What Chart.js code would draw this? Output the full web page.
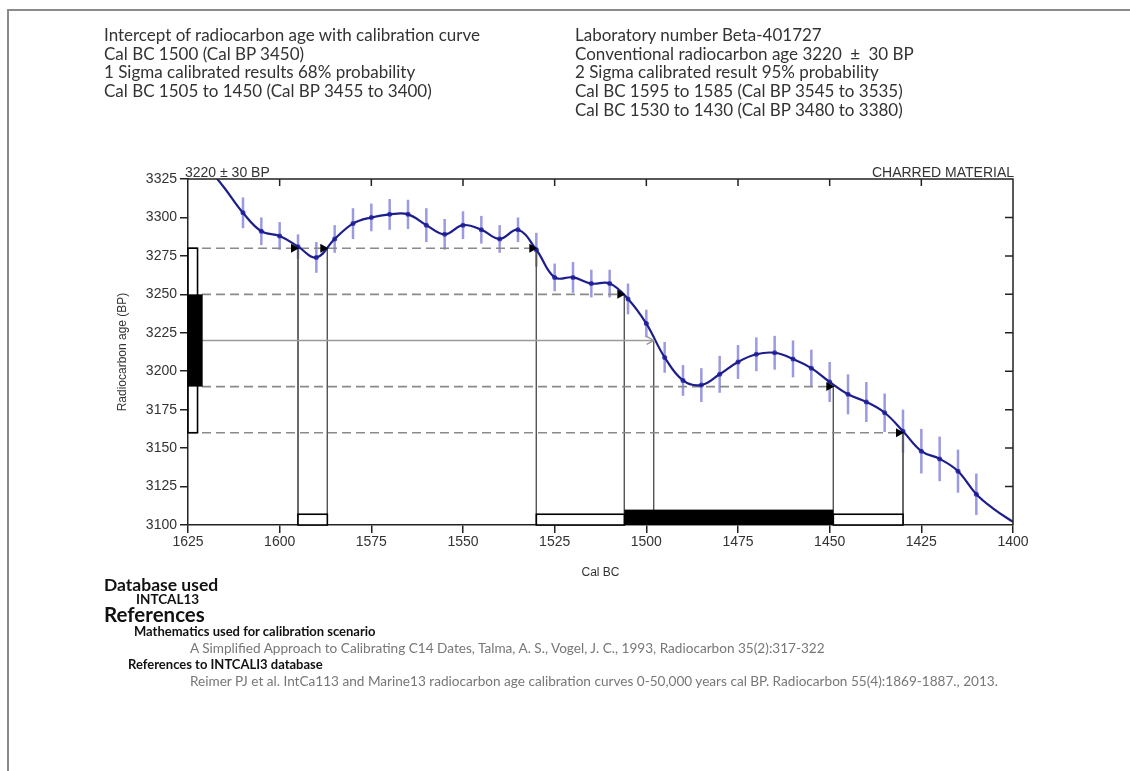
<!DOCTYPE html>
<html>
<head>
<meta charset="utf-8">
<script src="https://cdn.jsdelivr.net/npm/chart.js@4"></script>
<style>
  html, body { margin:0; padding:0; background:#fff; }
  body { width:1130px; height:771px; position:relative; overflow:hidden; }
  #frameTop { position:absolute; left:8px; top:9px; width:1122px; height:2px; background:#8a8a8a; }
  #frameLeft { position:absolute; left:7px; top:9px; width:2px; height:762px; background:#8a8a8a; }
  canvas { position:absolute; left:0; top:0; }
  .t { position:absolute; font-family:'Lato', sans-serif; color:#333; white-space:nowrap; }
  .hdr { font-size:17px; line-height:18.7px; }
  .b { font-weight:bold; color:#111; line-height:1; }
  .g { color:#777; font-size:13.6px; line-height:1; }
</style>
</head>
<body>
<div id="frameTop"></div>
<div id="frameLeft"></div>
<canvas id="c" width="1130" height="771"></canvas>

<div class="t hdr" style="left:104px; top:26px;">Intercept of radiocarbon age with calibration curve<br>Cal BC 1500 (Cal BP 3450)<br>1 Sigma calibrated results 68% probability<br>Cal BC 1505 to 1450 (Cal BP 3455 to 3400)</div>
<div class="t hdr" style="left:575px; top:26px;">Laboratory number Beta-401727<br>Conventional radiocarbon age 3220 <span style="margin:0 4px">±</span> 30 BP<br>2 Sigma calibrated result 95% probability<br>Cal BC 1595 to 1585 (Cal BP 3545 to 3535)<br>Cal BC 1530 to 1430 (Cal BP 3480 to 3380)</div>

<div class="t b" style="left:104px; top:576px; font-size:17.5px;">Database used</div>
<div class="t b" style="left:136px; top:593px; font-size:13.5px;">INTCAL13</div>
<div class="t b" style="left:104px; top:604px; font-size:20.5px;">References</div>
<div class="t b" style="left:134px; top:625px; font-size:13px;">Mathematics used for calibration scenario</div>
<div class="t g" style="left:190px; top:642px;">A Simplified Approach to Calibrating C14 Dates, Talma, A. S., Vogel, J. C., 1993, Radiocarbon 35(2):317-322</div>
<div class="t b" style="left:128px; top:658px; font-size:13px;">References to INTCALI3 database</div>
<div class="t g" style="left:190px; top:675px;">Reimer PJ et al. IntCa113 and Marine13 radiocarbon age calibration curves 0-50,000 years cal BP. Radiocarbon 55(4):1869-1887., 2013.</div>

<script>
// ---- Data ----
const calYears = [1610,1605,1600,1595,1590,1585,1580,1575,1570,1565,1560,1555,
                  1550,1545,1540,1535,1530,1525,1520,1515,1510,1505,1500,
                  1495,1490,1485,1480,1475,1470,1465,1460,1455,1450,1445,1440,1435,1430,1425,1420,1415,1410];
const calAges  = [3303,3291,3288,3281,3274,3286,3296,3300,3302,3302,3295,3289,
                  3295,3292,3286,3292,3279,3261,3261,3257,3257,3247,3231,
                  3209,3194,3191,3198,3206,3211,3212,3208,3202,3193,3185,3180,3173,3161,3148,3143,3135,3120];
const calErrors = [10,9,9,8,10,9,10,9,10,9.5,11,10,
                   9,9,9,8,11,9,10,9,9,10,9,
                   10,10,11,12,11,11,11,12,12,13,13,13,12.5,14,14.5,14.5,14,13.5];
// curve continues beyond the plotted calibration points
const curveStartYears = [1625,1620,1615];
const curveStartAges  = [3350,3334,3319];
const curveEndYears = [1405,1400];
const curveEndAges  = [3110,3102];

const xTicks = [1625,1600,1575,1550,1525,1500,1475,1450,1425,1400];
const yTicks = [3100,3125,3150,3175,3200,3225,3250,3275,3300,3325];

const measuredAge = 3220;
const sigma1 = [3190, 3250];
const sigma2 = [3160, 3280];
// dashed levels: [age, year where line ends]
const dashedLevels = [[3280,1530],[3250,1506],[3190,1449],[3160,1430]];
// intercept verticals: [year, age]
const verticals = [[1595,3280],[1587,3280],[1530,3280],[1506,3250],[1498,3220],[1449,3190],[1430,3160]];
// arrowheads: [year, age]
const arrows = [[1595,3280],[1587,3280],[1530,3280],[1506,3250],[1449,3190],[1430,3160]];
const interceptArrow = [1498, 3220];
// calibrated ranges along x axis: [from, to]
const ranges2 = [[1595,1587],[1530,1506],[1449,1430]];
const ranges1 = [[1506,1449]];
const xMin = 1400, xMax = 1625, yMin = 3100, yMax = 3325;

// ---- Build datasets ----
const curveData = [];
curveStartYears.forEach((y,i)=>curveData.push({x:y, y:curveStartAges[i]}));
calYears.forEach((y,i)=>curveData.push({x:y, y:calAges[i]}));
curveEndYears.forEach((y,i)=>curveData.push({x:y, y:curveEndAges[i]}));
const pointData = calYears.map((y,i)=>({x:y, y:calAges[i]}));

const datasets = [
  { data: curveData, borderColor:'#1d1d8c', borderWidth:2.2, pointRadius:0, tension:0.4, clip:0, fill:false },
  { data: pointData, showLine:false, pointRadius:2.5, pointBackgroundColor:'#3a3ab8', pointBorderWidth:0, clip:0 }
];
dashedLevels.forEach(([age, end])=>{
  datasets.push({ data:[{x:xMax,y:age},{x:end,y:age}], borderColor:'#8a8a8a', borderWidth:1.6, borderDash:[9,5], pointRadius:0, tension:0 });
});
datasets.push({ data:[{x:xMax,y:measuredAge},{x:interceptArrow[0],y:measuredAge}], borderColor:'#9a9a9a', borderWidth:1.6, pointRadius:0, tension:0 });
verticals.forEach(([yr, age])=>{
  datasets.push({ data:[{x:yr,y:age},{x:yr,y:yMin}], borderColor:'#555', borderWidth:1, pointRadius:0, tension:0 });
});

const overlay = {
  id:'overlay',
  beforeDatasetsDraw(chart){
    const ctx = chart.ctx, xs = chart.scales.x, ys = chart.scales.y;
    ctx.save();
    ctx.strokeStyle = 'rgba(120,120,215,0.75)';
    ctx.lineWidth = 2.5;
    calYears.forEach((yr,i)=>{
      const px = xs.getPixelForValue(yr);
      ctx.beginPath();
      ctx.moveTo(px, ys.getPixelForValue(calAges[i]-calErrors[i]));
      ctx.lineTo(px, ys.getPixelForValue(calAges[i]+calErrors[i]));
      ctx.stroke();
    });
    ctx.restore();
  },
  afterDatasetsDraw(chart){
    const ctx = chart.ctx, xs = chart.scales.x, ys = chart.scales.y, a = chart.chartArea;
    ctx.save();
    // arrowheads
    ctx.fillStyle = '#000';
    arrows.forEach(([yr, age])=>{
      const px = xs.getPixelForValue(yr), py = ys.getPixelForValue(age);
      ctx.beginPath(); ctx.moveTo(px+1, py); ctx.lineTo(px-7, py-4.5); ctx.lineTo(px-7, py+4.5); ctx.closePath(); ctx.fill();
    });
    {
      const px = xs.getPixelForValue(interceptArrow[0]), py = ys.getPixelForValue(interceptArrow[1]);
      ctx.strokeStyle = '#999'; ctx.lineWidth = 1.4;
      ctx.beginPath(); ctx.moveTo(px-7, py-4); ctx.lineTo(px, py); ctx.lineTo(px-7, py+4); ctx.stroke();
    }
    // bottom range boxes
    ctx.lineWidth = 1.6; ctx.strokeStyle = '#000';
    ranges2.forEach(([f,t])=>{
      const x1 = xs.getPixelForValue(f), x2 = xs.getPixelForValue(t);
      const y1 = ys.getPixelForValue(yMin+7), y2 = ys.getPixelForValue(yMin);
      ctx.fillStyle = '#fff'; ctx.fillRect(x1, y1, x2-x1, y2-y1);
      ctx.strokeRect(x1, y1, x2-x1, y2-y1);
    });
    ranges1.forEach(([f,t])=>{
      const x1 = xs.getPixelForValue(f), x2 = xs.getPixelForValue(t);
      const y1 = ys.getPixelForValue(yMin+10), y2 = ys.getPixelForValue(yMin);
      ctx.fillStyle = '#000'; ctx.fillRect(x1, y1, x2-x1, y2-y1);
    });
    // left range boxes
    {
      const x1 = a.left, x2 = xs.getPixelForValue(1622.4);
      const y1 = ys.getPixelForValue(sigma2[1]), y2 = ys.getPixelForValue(sigma2[0]);
      ctx.fillStyle = '#fff'; ctx.fillRect(x1, y1, x2-x1, y2-y1);
      ctx.strokeRect(x1, y1, x2-x1, y2-y1);
      const x3 = xs.getPixelForValue(1621);
      const y3 = ys.getPixelForValue(sigma1[1]), y4 = ys.getPixelForValue(sigma1[0]);
      ctx.fillStyle = '#000'; ctx.fillRect(x1, y3, x3-x1, y4-y3);
    }
    // frame top/right with inward ticks
    ctx.strokeStyle = '#222'; ctx.lineWidth = 1.5;
    ctx.beginPath();
    ctx.moveTo(a.left, a.top); ctx.lineTo(a.right, a.top); ctx.lineTo(a.right, a.bottom);
    ctx.stroke();
    ctx.beginPath();
    xTicks.forEach(v=>{ const px = xs.getPixelForValue(v); if (v!==xMin && v!==xMax){ ctx.moveTo(px, a.top); ctx.lineTo(px, a.top+7);} });
    yTicks.forEach(v=>{ const py = ys.getPixelForValue(v); if (v!==yMin && v!==yMax){ ctx.moveTo(a.right, py); ctx.lineTo(a.right-8, py);} });
    ctx.stroke();
    // corner labels
    ctx.fillStyle = '#333';
    ctx.font = '14px "Liberation Sans", Arial, sans-serif';
    ctx.textBaseline = 'alphabetic';
    ctx.textAlign = 'left';
    ctx.fillText(measuredAge + ' \u00b1 30 BP', a.left - 3, a.top - 2);
    ctx.textAlign = 'right';
    ctx.fillText('CHARRED MATERIAL', a.right + 1, a.top - 2);
    ctx.restore();
  }
};

Chart.defaults.font.family = '"Liberation Sans", Arial, sans-serif';
Chart.defaults.font.size = 14;
Chart.defaults.color = '#333';

new Chart(document.getElementById('c'), {
  type:'line',
  data:{ datasets },
  options:{
    responsive:false, animation:false, events:[],
    layout:{ padding:{ left:100, top:179, right:117, bottom:186 } },
    plugins:{ legend:{display:false}, tooltip:{enabled:false} },
    scales:{
      x:{ type:'linear', reverse:true, min:xMin, max:xMax,
          afterFit(s){ s.height = 60; },
          afterBuildTicks(s){ s.ticks = xTicks.map(v=>({value:v})); },
          ticks:{ padding:1, color:'#333', autoSkip:false, maxRotation:0, callback:v=>String(v) },
          grid:{ drawOnChartArea:false, drawTicks:true, tickLength:8, color:'#222', lineWidth:1.5 },
          border:{ color:'#222', width:1.5 },
          title:{ display:true, text:'Cal BC', color:'#333', font:{size:12}, padding:{top:0,bottom:5} } },
      y:{ type:'linear', min:yMin, max:yMax,
          afterFit(s){ s.width = 88; },
          afterBuildTicks(s){ s.ticks = yTicks.map(v=>({value:v})); },
          ticks:{ padding:3, color:'#333', callback:v=>String(v) },
          grid:{ drawOnChartArea:false, drawTicks:true, tickLength:8, color:'#222', lineWidth:1.5 },
          border:{ color:'#222', width:1.5 },
          title:{ display:true, text:'Radiocarbon age (BP)', color:'#333', font:{size:12}, padding:{top:15,bottom:0} } }
    }
  },
  plugins:[overlay]
});
</script>
</body>
</html>
